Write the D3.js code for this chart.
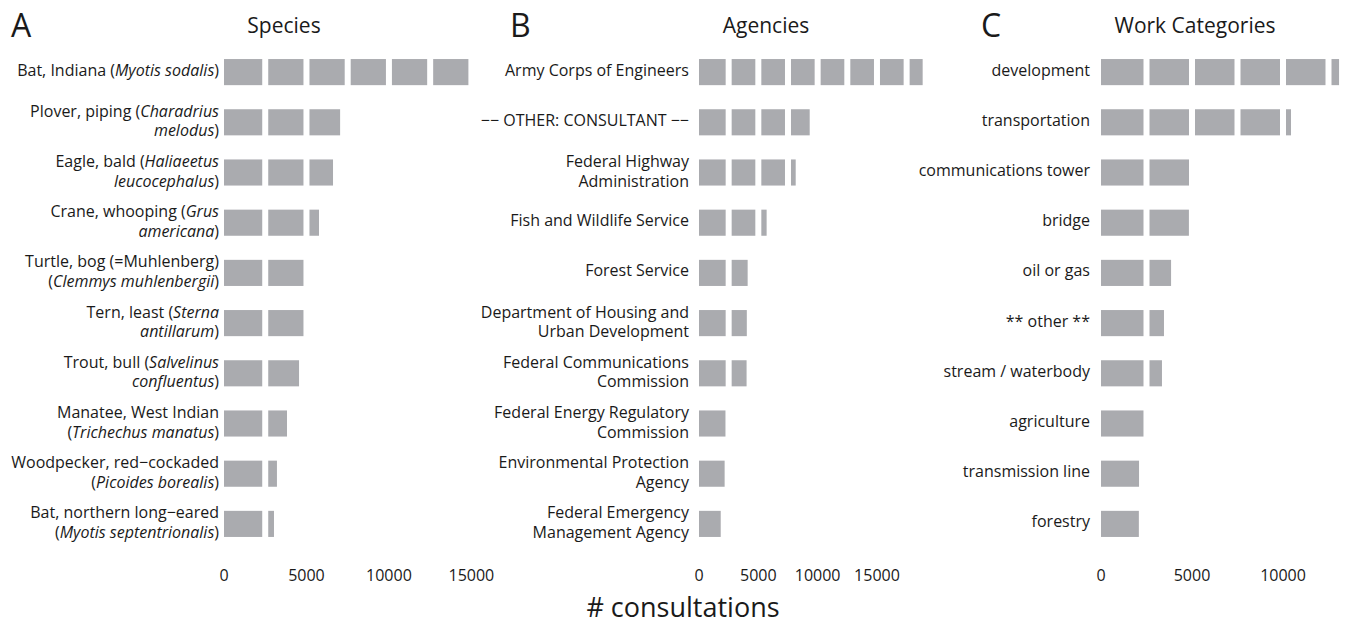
<!DOCTYPE html>
<html>
<head>
<meta charset="utf-8">
<script src="https://cdn.jsdelivr.net/npm/d3@7"></script>
<style>
  body { margin: 0; background: #fff; }
  svg { font-family: "Open Sans", sans-serif; }
  text { fill: #1a1a1a; }
</style>
</head>
<body>
<div id="d3-container"></div>
<script>
/**
 * CONSTANTS AND GLOBALS
 * */
const width = 1349,
  height = 625;

// labels: "\n" splits lines, _..._ marks italic
const speciesLabels = [
  "Bat, Indiana (_Myotis sodalis_)",
  "Plover, piping (_Charadrius_\n_melodus_)",
  "Eagle, bald (_Haliaeetus_\n_leucocephalus_)",
  "Crane, whooping (_Grus_\n_americana_)",
  "Turtle, bog (=Muhlenberg)\n(_Clemmys muhlenbergii_)",
  "Tern, least (_Sterna_\n_antillarum_)",
  "Trout, bull (_Salvelinus_\n_confluentus_)",
  "Manatee, West Indian\n(_Trichechus manatus_)",
  "Woodpecker, red\u2212cockaded\n(_Picoides borealis_)",
  "Bat, northern long\u2212eared\n(_Myotis septentrionalis_)"
];
const speciesValues = [14860, 7040, 6610, 5760, 4860, 4850, 4550, 3820, 3210, 3030];

const agencyLabels = [
  "Army Corps of Engineers",
  "\u2212\u2212 OTHER: CONSULTANT \u2212\u2212",
  "Federal Highway\nAdministration",
  "Fish and Wildlife Service",
  "Forest Service",
  "Department of Housing and\nUrban Development",
  "Federal Communications\nCommission",
  "Federal Energy Regulatory\nCommission",
  "Environmental Protection\nAgency",
  "Federal Emergency\nManagement Agency"
];
const agencyValues = [18850, 9330, 8150, 5700, 4100, 4030, 4010, 2250, 2160, 1830];

const workLabels = [
  "development",
  "transportation",
  "communications tower",
  "bridge",
  "oil or gas",
  "** other **",
  "stream / waterbody",
  "agriculture",
  "transmission line",
  "forestry"
];
const workValues = [13080, 10440, 4840, 4830, 3850, 3460, 3350, 2360, 2090, 2080];

const ticksAB = [0, 5000, 10000, 15000];
const ticksC = [0, 5000, 10000];
const gridStep = 2500;

const barColor = "#aaabaf";

// panel layout
const panels = [
  { letter: "A", title: "Species", labels: speciesLabels, values: speciesValues,
    ticks: ticksAB, domain: 15000, x0: 224, x1: 471.4, labelGap: 5,
    letterX: 11, titleX: 284 },
  { letter: "B", title: "Agencies", labels: agencyLabels, values: agencyValues,
    ticks: ticksAB, domain: 20000, x0: 699, x1: 936.3, labelGap: 10,
    letterX: 510, titleX: 766 },
  { letter: "C", title: "Work Categories", labels: workLabels, values: workValues,
    ticks: ticksC, domain: 12500, x0: 1101, x1: 1328.5, labelGap: 11,
    letterX: 981, titleX: 1195 }
];

let svg;

init();

function init() {
  svg = d3.select("#d3-container")
    .append("svg")
    .attr("width", width)
    .attr("height", height);

  panels.forEach(drawPanel);

  svg.append("text")
    .attr("x", 683)
    .attr("y", 617)
    .attr("text-anchor", "middle")
    .attr("font-size", 27)
    .text("# consultations");
}

function drawPanel(p) {
  const g = svg.append("g");

  const x = d3.scaleLinear()
    .domain([0, p.domain])
    .range([p.x0, p.x1]);

  const y = d3.scaleBand()
    .domain(p.labels)
    .range([47, 549])
    .paddingInner(0.48)
    .paddingOuter(0.24);

  const rows = p.labels.map((l, i) => ({ label: l, value: p.values[i] }));

  // bars
  g.selectAll("rect.bar")
    .data(rows)
    .join("rect")
    .attr("class", "bar")
    .attr("x", x(0))
    .attr("y", d => y(d.label))
    .attr("width", d => x(d.value) - x(0))
    .attr("height", y.bandwidth())
    .attr("fill", barColor);

  // white grid drawn on top of the bars
  const grid = d3.range(gridStep, p.domain + 1, gridStep);
  g.selectAll("line.grid")
    .data(grid)
    .join("line")
    .attr("class", "grid")
    .attr("x1", d => x(d))
    .attr("x2", d => x(d))
    .attr("y1", 47)
    .attr("y2", 549)
    .attr("stroke", "#fff")
    .attr("stroke-width", 6);

  // category labels
  const lab = g.selectAll("text.lab")
    .data(rows)
    .join("text")
    .attr("class", "lab")
    .attr("text-anchor", "end")
    .attr("font-size", 16)
    .attr("transform", d => {
      const c = y(d.label) + y.bandwidth() / 2;
      return `translate(${p.x0 - p.labelGap},${c})`;
    });

  lab.each(function(d) {
    const lines = d.label.split("\n");
    const t = d3.select(this);
    const startY = lines.length === 1 ? 3.5 : -5.5;
    lines.forEach((line, li) => {
      const parts = line.split("_");
      parts.forEach((part, pi) => {
        if (part === "") return;
        const ts = t.append("tspan")
          .attr("font-style", pi % 2 === 1 ? "italic" : "normal")
          .text(part);
        if (pi === 0 || (pi === 1 && parts[0] === "")) {
          ts.attr("x", 0).attr("y", startY + li * 19.5);
        }
      });
    });
  });

  // x axis tick labels
  g.selectAll("text.tick")
    .data(p.ticks)
    .join("text")
    .attr("class", "tick")
    .attr("x", d => x(d))
    .attr("y", 581)
    .attr("text-anchor", "middle")
    .attr("font-size", 16)
    .text(d => d);

  // panel title and letter
  g.append("text")
    .attr("x", p.titleX)
    .attr("y", 33)
    .attr("text-anchor", "middle")
    .attr("font-size", 21)
    .text(p.title);

  g.append("text")
    .attr("x", p.letterX)
    .attr("y", 37)
    .attr("font-size", 32)
    .text(p.letter);
}
</script>
</body>
</html>
